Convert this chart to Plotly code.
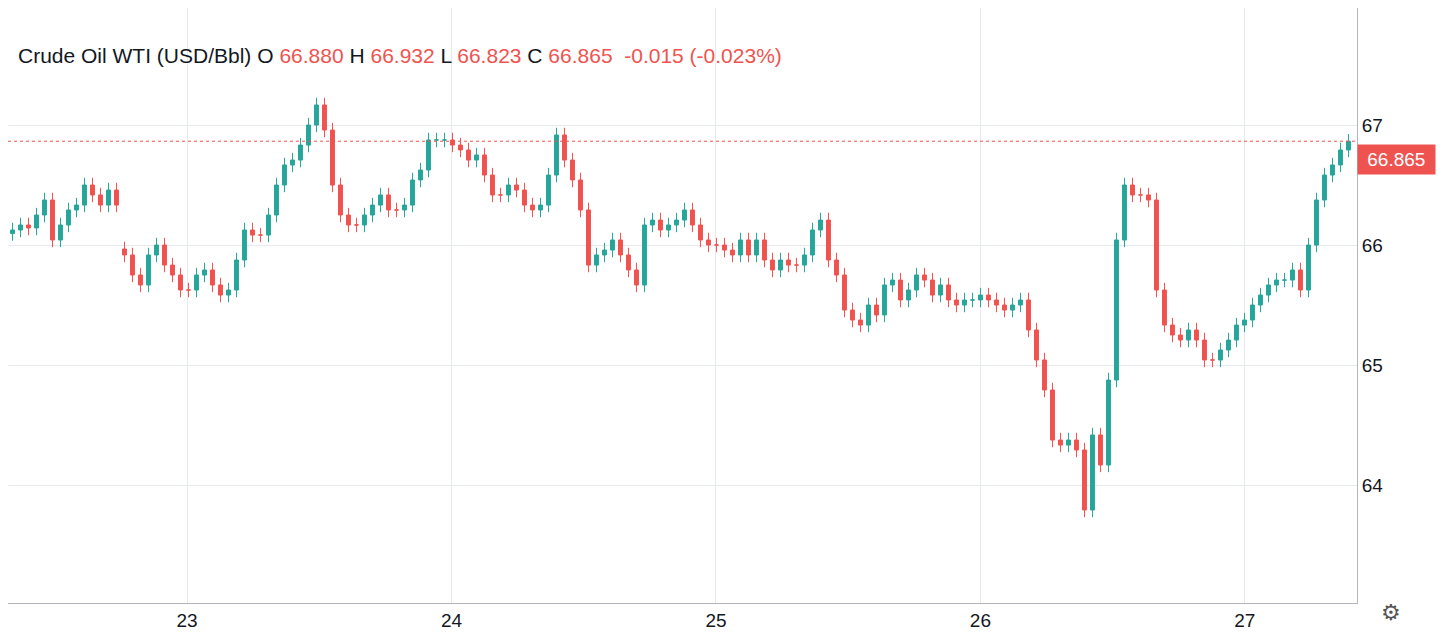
import plotly.graph_objects as go

# Closing prices (two sessions, ~45-min bars)
session1_close = [66.125, 66.167, 66.142, 66.25, 66.375, 66.042, 66.167, 66.292, 66.333, 66.5,
                  66.417, 66.333, 66.458, 66.333]
session2_close = [65.917, 65.75, 65.667, 65.917, 66.0, 65.833, 65.75, 65.625, 65.625, 65.75,
                  65.792, 65.667, 65.583, 65.625, 65.875, 66.125, 66.083, 66.083, 66.25, 66.5,
                  66.667, 66.708, 66.833, 67.0, 67.167, 66.958, 66.5, 66.25, 66.167, 66.167,
                  66.25, 66.333, 66.417, 66.292, 66.292, 66.333, 66.542, 66.625, 66.875, 66.875,
                  66.875, 66.833, 66.792, 66.708, 66.75, 66.583, 66.417, 66.417, 66.5, 66.458,
                  66.333, 66.292, 66.333, 66.583, 66.917, 66.708, 66.542, 66.292, 65.833, 65.917,
                  65.958, 66.042, 65.917, 65.792, 65.667, 66.167, 66.208, 66.125, 66.167, 66.208,
                  66.292, 66.167, 66.042, 66.0, 66.0, 65.958, 65.917, 66.042, 65.917, 66.042,
                  65.875, 65.792, 65.875, 65.833, 65.833, 65.917, 66.125, 66.208, 65.875, 65.75,
                  65.458, 65.375, 65.333, 65.5, 65.417, 65.667, 65.708, 65.542, 65.625, 65.75,
                  65.708, 65.583, 65.667, 65.542, 65.5, 65.542, 65.542, 65.583, 65.542, 65.5,
                  65.458, 65.5, 65.542, 65.292, 65.042, 64.792, 64.375, 64.333, 64.375, 64.292,
                  63.792, 64.417, 64.167, 64.875, 66.042, 66.5, 66.417, 66.417, 66.375, 65.625,
                  65.333, 65.25, 65.208, 65.292, 65.208, 65.042, 65.042, 65.125, 65.208, 65.333,
                  65.375, 65.5, 65.583, 65.667, 65.708, 65.708, 65.792, 65.625, 66.0, 66.375,
                  66.583, 66.667, 66.792, 66.865]
start_day = 22.34
bar_step = 0.03025
wick = 0.06
last_price = 66.865
x_ticks = [23, 24, 25, 26, 27]
y_ticks = [64, 65, 66, 67]

closes = session1_close + session2_close
opens, highs, lows, xs = [], [], [], []
for i, c in enumerate(closes):
    if i == 0:
        o = c - 0.03
    elif i == len(session1_close):
        o = c + 0.05
    else:
        o = closes[i - 1]
    opens.append(o)
    highs.append(max(o, c) + wick)
    lows.append(min(o, c) - wick)
    xs.append(start_day + i * bar_step)

green, red = "#26a69a", "#ef5350"
fig = go.Figure(go.Candlestick(
    x=xs, open=opens, high=highs, low=lows, close=closes,
    increasing=dict(line=dict(color=green, width=1), fillcolor=green),
    decreasing=dict(line=dict(color=red, width=1), fillcolor=red),
    whiskerwidth=0, showlegend=False, hoverinfo="skip"))

fig.add_shape(type="line", xref="paper", x0=0, x1=1, y0=last_price, y1=last_price,
              line=dict(color=red, width=1, dash="dot"))
fig.add_annotation(xref="paper", x=1.0, y=last_price, xanchor="left", yanchor="top", yshift=-3,
                   text=f" {last_price:.3f} ", showarrow=False, bgcolor=red,
                   font=dict(color="white", size=19, family="Liberation Sans"), borderpad=4)
title = ("<span style='color:#131722'>Crude Oil WTI (USD/Bbl) O </span><span style='color:#ef5350'>66.880</span>"
         "<span style='color:#131722'> H </span><span style='color:#ef5350'>66.932</span>"
         "<span style='color:#131722'> L </span><span style='color:#ef5350'>66.823</span>"
         "<span style='color:#131722'> C </span><span style='color:#ef5350'>66.865  -0.015 (-0.023%)</span>")
fig.add_annotation(xref="paper", yref="paper", x=0.006, y=0.921, xanchor="left", yanchor="middle",
                   text=title, showarrow=False, font=dict(size=21, family="Liberation Sans"))
fig.add_annotation(xref="paper", yref="paper", x=1.034, y=-0.04, text="⚙", showarrow=False,
                   font=dict(size=22, color="#555"))

fig.update_layout(
    width=1440, height=628, margin=dict(l=0, r=91, t=0, b=33),
    paper_bgcolor="white", plot_bgcolor="white",
    font=dict(family="Liberation Sans", size=19, color="#131722"),
    xaxis=dict(range=[22.323, 27.424], tickvals=x_ticks, ticktext=[str(t) for t in x_ticks],
               showgrid=True, gridcolor="#e6eaf0", rangeslider=dict(visible=False),
               showline=True, linecolor="#b2b5be", zeroline=False, ticks=""),
    yaxis=dict(range=[63.017, 67.975], tickvals=y_ticks, side="right", showgrid=True,
               gridcolor="#e6eaf0", showline=True, linecolor="#b2b5be", zeroline=False,
               ticks=""),
)
fig.write_html("out.html")
